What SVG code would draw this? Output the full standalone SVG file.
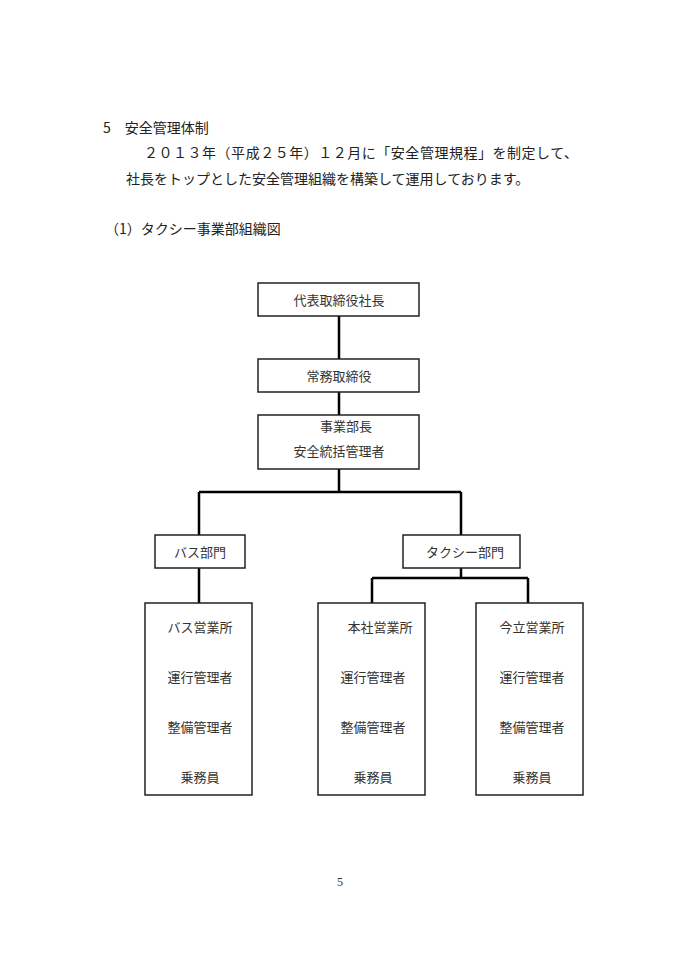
<svg xmlns="http://www.w3.org/2000/svg" width="680" height="961" viewBox="0 0 680 961">
<style>
text{font-family:"Noto Sans CJK JP","Noto Sans CJK SC",sans-serif;font-size:13px;fill:#333}
.h{font-size:14px;fill:#222}
.m{text-anchor:middle}
rect{fill:#fff;stroke:#222;stroke-width:1.5}
#connectors path{fill:none;stroke:#000;stroke-width:2.5}
</style>
<rect x="0" y="0" width="680" height="961" style="stroke:none"/>
<g id="header">
<text class="h" x="103" y="133">5　安全管理体制</text>
<text class="h" x="144" y="158" textLength="434" lengthAdjust="spacing">２０１３年（平成２５年）１２月に「安全管理規程」を制定して、</text>
<text class="h" x="126" y="184">社長をトップとした安全管理組織を構築して運用しております。</text>
<text class="h" x="105" y="234">（1）タクシー事業部組織図</text>
</g>
<g id="connectors">
<path d="M339 316V359M339 392V415M339 469V492M199 492H461M199 492V535M461 492V535M199 568V603M461 568V578M372 578H528M372 578V603M528 578V603"/>
</g>
<g id="n1"><rect x="258" y="283" width="161" height="33"/><text class="m" x="339" y="305">代表取締役社長</text></g>
<g id="n2"><rect x="258" y="359" width="161" height="33"/><text class="m" x="339" y="381">常務取締役</text></g>
<g id="n3"><rect x="258" y="415" width="161" height="54"/><text class="m" x="346" y="431">事業部長</text><text class="m" x="339" y="456">安全統括管理者</text></g>
<g id="bus"><rect x="155" y="535" width="90" height="33"/><text class="m" x="200" y="557">バス部門</text></g>
<g id="taxi"><rect x="403" y="535" width="117" height="33"/><text class="m" x="465" y="557">タクシー部門</text></g>
<g id="o1"><rect x="145" y="603" width="107" height="192"/>
<text class="m" x="200" y="632">バス営業所</text><text class="m" x="200" y="682">運行管理者</text><text class="m" x="200" y="732">整備管理者</text><text class="m" x="200" y="782">乗務員</text></g>
<g id="o2"><rect x="318" y="603" width="107" height="192"/>
<text class="m" x="380" y="632">本社営業所</text><text class="m" x="373" y="682">運行管理者</text><text class="m" x="373" y="732">整備管理者</text><text class="m" x="373" y="782">乗務員</text></g>
<g id="o3"><rect x="476" y="603" width="107" height="192"/>
<text class="m" x="532" y="632">今立営業所</text><text class="m" x="532" y="682">運行管理者</text><text class="m" x="532" y="732">整備管理者</text><text class="m" x="532" y="782">乗務員</text></g>
<text x="340" y="886" style="font-family:'Liberation Serif',serif;font-size:12px;text-anchor:middle">5</text>
</svg>
